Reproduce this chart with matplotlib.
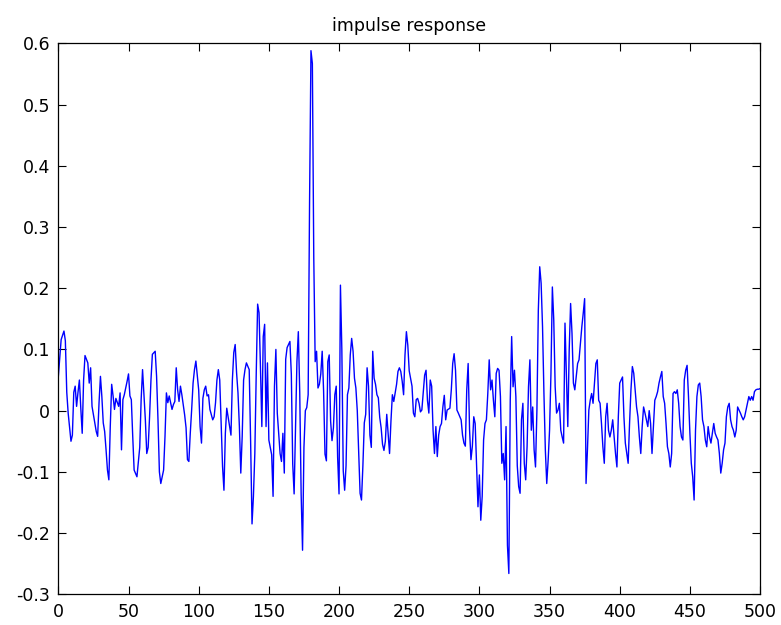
import numpy as np
import matplotlib
matplotlib.use("Agg")
import matplotlib.pyplot as plt
from matplotlib.ticker import FuncFormatter

plt.rcParams['axes.unicode_minus'] = False
plt.rcParams['font.family'] = 'DejaVu Sans'

# sample index and value
n = [0, 2, 4, 5, 6, 7, 9, 10, 11, 12, 13, 14, 15, 16, 17, 18, 19, 21, 22, 23,
     24, 26, 27, 28, 29, 30, 31, 32, 33, 34, 35, 36, 37, 38, 39, 40, 41, 43, 44, 45,
     46, 47, 49, 50, 51, 52, 53, 54, 56, 58, 59, 60, 62, 63, 64, 65, 66, 67, 69, 70,
     71, 72, 73, 75, 76, 77, 78, 79, 81, 82, 83, 84, 85, 86, 87, 88, 90, 91, 92, 93,
     94, 95, 96, 97, 98, 100, 101, 102, 103, 104, 105, 106, 107, 108, 110, 111, 112, 113, 114, 115,
     116, 117, 118, 119, 120, 122, 123, 124, 125, 126, 127, 128, 129, 130, 131, 132, 133, 134, 136, 137,
     138, 139, 140, 141, 142, 143, 144, 145, 146, 147, 148, 149, 150, 151, 152, 153, 154, 155, 156, 158,
     159, 160, 161, 162, 163, 165, 166, 167, 168, 169, 170, 171, 172, 173, 174, 175, 176, 177, 178, 179,
     180, 181, 182, 183, 184, 185, 186, 187, 188, 189, 190, 191, 192, 193, 194, 195, 196, 197, 198, 199,
     200, 201, 202, 203, 204, 205, 206, 207, 208, 209, 210, 211, 212, 213, 214, 215, 216, 217, 218, 219,
     220, 221, 222, 223, 224, 225, 226, 227, 228, 229, 230, 231, 232, 233, 234, 235, 236, 237, 238, 239,
     241, 242, 243, 244, 245, 246, 247, 248, 249, 250, 252, 253, 254, 255, 256, 257, 258, 259, 260, 261,
     262, 263, 264, 265, 266, 267, 268, 269, 270, 271, 272, 273, 274, 275, 276, 277, 279, 280, 281, 282,
     283, 284, 285, 287, 288, 289, 290, 291, 292, 293, 294, 295, 296, 297, 298, 299, 300, 301, 302, 303,
     304, 305, 306, 307, 308, 309, 310, 311, 312, 313, 314, 315, 316, 317, 318, 319, 320, 321, 322, 323,
     324, 325, 326, 327, 328, 329, 330, 331, 332, 333, 334, 335, 336, 337, 338, 339, 340, 341, 342, 343,
     344, 345, 346, 347, 348, 349, 350, 351, 352, 353, 354, 355, 356, 357, 358, 359, 360, 361, 362, 363,
     364, 365, 366, 367, 368, 369, 370, 371, 372, 373, 374, 375, 376, 377, 378, 379, 380, 381, 382, 383,
     384, 385, 386, 387, 388, 389, 390, 391, 392, 393, 394, 395, 396, 397, 398, 399, 400, 401, 402, 403,
     404, 406, 407, 408, 409, 410, 411, 412, 413, 414, 415, 416, 417, 418, 419, 420, 421, 422, 423, 424,
     425, 426, 427, 428, 429, 430, 431, 432, 433, 434, 435, 436, 437, 438, 439, 440, 441, 442, 443, 444,
     445, 446, 447, 448, 449, 450, 451, 452, 453, 454, 455, 456, 457, 458, 459, 460, 461, 462, 463, 464,
     465, 466, 467, 468, 469, 470, 471, 472, 473, 474, 475, 476, 477, 478, 479, 480, 481, 482, 483, 484,
     485, 486, 487, 488, 489, 490, 491, 492, 493, 494, 495, 496, 497, 498, 499, 500]
h = [0.056, 0.116, 0.130, 0.114, 0.030, -0.004, -0.050, -0.040, 0.030, 0.040, 0.007, 0.030, 0.050, 0.004, -0.037, 0.050, 0.090, 0.078, 0.045, 0.070,
     0.007, -0.020, -0.034, -0.042, 0.013, 0.056, 0.023, -0.020, -0.034, -0.064, -0.097, -0.113, -0.026, 0.043, 0.024, 0.002, 0.020, 0.007, 0.029, -0.064,
     0.018, 0.026, 0.048, 0.060, 0.024, 0.018, -0.042, -0.097, -0.108, -0.060, 0.018, 0.067, -0.015, -0.070, -0.060, -0.010, 0.050, 0.092, 0.097, 0.056,
     -0.015, -0.100, -0.119, -0.097, -0.042, 0.029, 0.013, 0.024, 0.002, 0.010, 0.015, 0.070, 0.034, 0.015, 0.040, 0.026, -0.007, -0.028, -0.080, -0.083,
     -0.037, 0.002, 0.045, 0.067, 0.081, 0.034, -0.026, -0.053, 0.020, 0.034, 0.040, 0.024, 0.026, 0.002, -0.015, -0.010, 0.013, 0.050, 0.067, 0.050,
     -0.020, -0.091, -0.130, -0.037, 0.004, -0.026, -0.040, 0.050, 0.095, 0.108, 0.062, 0.029, -0.026, -0.102, -0.042, 0.050, 0.067, 0.078, 0.067, -0.050,
     -0.185, -0.140, -0.070, 0.060, 0.174, 0.160, 0.072, -0.026, 0.121, 0.141, -0.026, 0.078, -0.048, -0.060, -0.072, -0.140, 0.040, 0.100, -0.004, -0.070,
     -0.083, -0.037, -0.102, 0.084, 0.103, 0.113, 0.060, -0.087, -0.136, -0.030, 0.080, 0.129, 0.030, -0.136, -0.228, -0.060, 0.000, 0.005, 0.026, 0.340,
     0.588, 0.567, 0.250, 0.080, 0.097, 0.037, 0.043, 0.060, 0.097, 0.032, -0.071, -0.082, 0.080, 0.091, -0.017, -0.049, -0.028, 0.026, 0.040, -0.076,
     -0.136, 0.205, 0.100, -0.098, -0.130, -0.090, 0.026, 0.037, 0.091, 0.118, 0.097, 0.053, 0.037, 0.000, -0.070, -0.135, -0.146, -0.090, -0.020, -0.006,
     0.070, 0.040, -0.040, -0.060, 0.097, 0.053, 0.043, 0.026, 0.021, -0.011, -0.028, -0.055, -0.065, -0.050, -0.006, -0.038, -0.070, -0.017, 0.026, 0.015,
     0.043, 0.064, 0.070, 0.064, 0.048, 0.026, 0.091, 0.129, 0.107, 0.065, 0.040, -0.004, -0.010, 0.018, 0.020, 0.012, -0.002, 0.001, 0.030, 0.058,
     0.066, 0.017, -0.004, 0.050, 0.040, -0.032, -0.070, -0.026, -0.075, -0.040, -0.026, -0.021, 0.006, 0.025, -0.015, 0.001, 0.004, 0.034, 0.077, 0.093,
     0.066, 0.001, -0.004, -0.015, -0.040, -0.053, -0.058, 0.034, 0.077, -0.031, -0.080, -0.058, -0.010, -0.021, -0.090, -0.157, -0.105, -0.179, -0.140, -0.048,
     -0.021, -0.015, 0.028, 0.083, 0.034, 0.050, 0.017, -0.010, 0.061, 0.069, 0.066, 0.023, -0.086, -0.070, -0.113, -0.026, -0.220, -0.266, 0.017, 0.121,
     0.039, 0.066, 0.023, -0.090, -0.124, -0.135, -0.015, 0.012, -0.086, -0.113, -0.058, 0.039, 0.083, -0.032, 0.006, -0.064, -0.092, 0.001, 0.164, 0.235,
     0.208, 0.137, 0.028, -0.064, -0.119, -0.081, -0.032, 0.061, 0.202, 0.148, 0.039, -0.004, 0.001, 0.012, -0.032, -0.043, -0.053, 0.143, 0.060, -0.026,
     0.099, 0.175, 0.126, 0.045, 0.034, 0.055, 0.077, 0.083, 0.110, 0.137, 0.159, 0.183, -0.119, -0.064, 0.001, 0.017, 0.028, 0.012, 0.045, 0.077,
     0.083, 0.017, 0.012, -0.021, -0.059, -0.086, -0.010, 0.012, -0.032, -0.043, -0.032, -0.015, -0.043, -0.070, -0.092, -0.010, 0.045, 0.050, 0.055, -0.010,
     -0.053, -0.086, -0.021, 0.034, 0.072, 0.061, 0.034, 0.006, -0.010, -0.043, -0.070, -0.026, 0.006, -0.004, -0.015, -0.026, 0.000, -0.021, -0.070, -0.026,
     0.017, 0.023, 0.031, 0.045, 0.055, 0.064, 0.023, 0.012, -0.021, -0.059, -0.070, -0.092, -0.070, 0.028, 0.031, 0.028, 0.034, 0.012, -0.026, -0.043,
     -0.048, 0.050, 0.066, 0.074, 0.023, -0.037, -0.086, -0.108, -0.146, -0.032, 0.023, 0.042, 0.045, 0.023, -0.015, -0.026, -0.048, -0.059, -0.026, -0.043,
     -0.053, -0.037, -0.021, -0.037, -0.043, -0.048, -0.070, -0.102, -0.086, -0.064, -0.053, -0.010, 0.006, 0.012, -0.015, -0.026, -0.032, -0.043, -0.032, 0.006,
     0.001, -0.004, -0.010, -0.015, -0.010, 0.001, 0.012, 0.023, 0.017, 0.023, 0.017, 0.031, 0.034, 0.035, 0.035, 0.036]

xticks = [0, 50, 100, 150, 200, 250, 300, 350, 400, 450, 500]
yticks = [-0.3, -0.2, -0.1, 0, 0.1, 0.2, 0.3, 0.4, 0.5, 0.6]

fig = plt.figure(figsize=(7.81, 6.25), dpi=100)
ax = fig.add_axes([0.0747, 0.0491, 0.8985, 0.8816])
ax.plot(n, h, color=(0, 0, 1), lw=1.0)

ax.set_xlim(0, 500)
ax.set_ylim(-0.3, 0.6)
ax.set_xticks(xticks)
ax.set_yticks(yticks)
ax.yaxis.set_major_formatter(FuncFormatter(lambda v, p: '%g' % round(v, 1)))
ax.tick_params(direction='in', length=5.5, width=0.8, top=True, right=True,
               labelsize=12.5, pad=6)
for s in ax.spines.values():
    s.set_linewidth(0.9)
ax.set_title('impulse response', fontsize=12.5, pad=9)

fig.savefig('out.png', dpi=100)
